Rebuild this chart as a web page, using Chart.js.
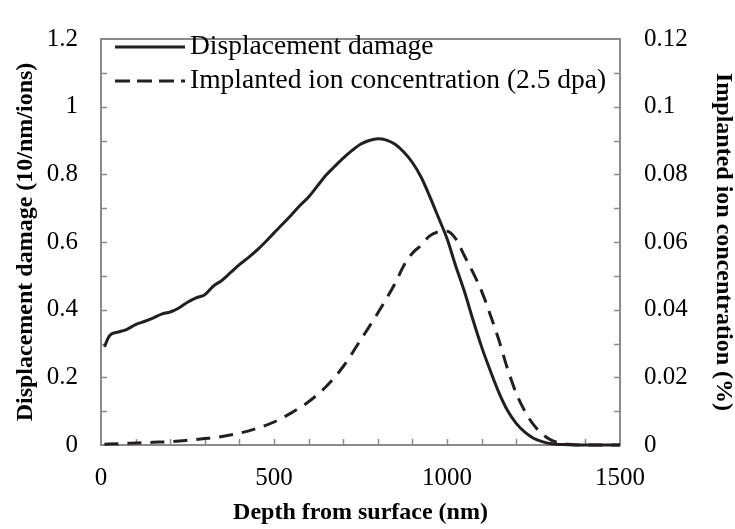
<!DOCTYPE html>
<html>
<head>
<meta charset="utf-8">
<script src="https://cdn.jsdelivr.net/npm/chart.js@4.4.1/dist/chart.umd.min.js"></script>
<style>
  html, body { margin: 0; padding: 0; background: #fff; }
</style>
</head>
<body>
<canvas id="myChart" width="735" height="529"></canvas>
<script>
    // displacement damage (left axis, 10/nm/ions)
    const damageDepth = [10, 20, 30, 50, 75, 100, 125, 150, 175, 200, 225, 250, 275, 300, 325, 350, 375, 400, 425, 450,
        475, 500, 525, 550, 575, 600, 625, 650, 675, 700, 725, 750, 775, 800, 825, 850, 875, 900, 925, 950,
        975, 1000, 1025, 1050, 1075, 1100, 1125, 1150, 1175, 1200, 1225, 1250, 1275, 1300, 1350, 1400, 1450, 1500];
    const damage = [0.29, 0.315, 0.328, 0.334, 0.342, 0.356, 0.365, 0.375, 0.387, 0.393, 0.405, 0.422, 0.435, 0.444, 0.47, 0.487, 0.51, 0.533, 0.553, 0.575,
        0.6, 0.627, 0.653, 0.68, 0.708, 0.733, 0.765, 0.797, 0.823, 0.848, 0.87, 0.889, 0.9, 0.905, 0.901, 0.889, 0.866, 0.835, 0.792, 0.735,
        0.673, 0.61, 0.53, 0.455, 0.37, 0.29, 0.22, 0.155, 0.102, 0.064, 0.038, 0.02, 0.01, 0.004, 0.001, 0, 0, 0];

    // implanted ion concentration (right axis, %)
    const ionDepth = [10, 50, 100, 150, 200, 250, 300, 350, 400, 450, 500, 550, 600, 650, 700, 750, 800, 850, 875, 900,
        925, 950, 975, 1000, 1025, 1050, 1075, 1100, 1125, 1150, 1175, 1200, 1225, 1250, 1275, 1300, 1325, 1350, 1400, 1450, 1500];
    const ionConc = [0.0002, 0.0004, 0.0006, 0.0008, 0.001, 0.0014, 0.0019, 0.0025, 0.0035, 0.0049, 0.0068, 0.0095, 0.0128, 0.0172, 0.0232, 0.031, 0.039, 0.0478, 0.053, 0.0567,
        0.059, 0.0618, 0.063, 0.0632, 0.061, 0.056, 0.051, 0.0455, 0.0385, 0.031, 0.0225, 0.0153, 0.01, 0.006, 0.0033, 0.0015, 0.0006, 0.0002, 0, 0, 0];

    const seriesNames = ['Displacement damage', 'Implanted ion concentration (2.5 dpa)'];
    const xTitle = 'Depth from surface (nm)';
    const yTitle = 'Displacement damage (10/nm/ions)';
    const y2Title = 'Implanted ion concentration (%)';

    const ink = '#231f20';
    const axisGray = '#8a8a8a';
    const serif = '"Liberation Serif", "Times New Roman", serif';
    const dash = [14, 9];

    // plain numbers, no thousands separator, no trailing zeros
    function fmt(v) {
        return String(+Number(v).toFixed(4));
    }

    // frame + inward tick marks, like the excel plot
    const framePlugin = {
        id: 'frame',
        beforeDatasetsDraw(chart) {
            const { ctx, chartArea: a, scales } = chart;
            ctx.save();
            ctx.strokeStyle = axisGray;
            ctx.lineWidth = 2;
            ctx.strokeRect(a.left, a.top, a.right - a.left, a.bottom - a.top);
            ctx.lineWidth = 1.5;
            ctx.beginPath();
            for (let v = 100; v < 1500; v += 100) {
                const px = Math.round(scales.x.getPixelForValue(v)) + 0.5;
                ctx.moveTo(px, a.bottom);
                ctx.lineTo(px, a.bottom - 6);
            }
            for (let i = 1; i < 12; i++) {
                const py = Math.round(scales.y.getPixelForValue(i / 10)) + 0.5;
                ctx.moveTo(a.left, py);
                ctx.lineTo(a.left + 6, py);
                const py2 = Math.round(scales.y2.getPixelForValue(i / 100)) + 0.5;
                ctx.moveTo(a.right, py2);
                ctx.lineTo(a.right - 6, py2);
            }
            ctx.stroke();
            ctx.restore();
        }
    };

    const legendPlugin = {
        id: 'lineLegend',
        afterDraw(chart) {
            const { ctx } = chart;
            const rows = [{ y: 47, d: [] }, { y: 81, d: [15, 7] }];
            ctx.save();
            ctx.font = '27.5px ' + serif;
            ctx.fillStyle = '#000';
            ctx.textBaseline = 'middle';
            rows.forEach((r, i) => {
                ctx.strokeStyle = ink;
                ctx.lineWidth = 3;
                ctx.setLineDash(r.d);
                ctx.beginPath();
                ctx.moveTo(115, r.y);
                ctx.lineTo(185, r.y);
                ctx.stroke();
                ctx.setLineDash([]);
                ctx.fillText(seriesNames[i], 190, r.y);
            });
            ctx.restore();
        }
    };

    const tickFont = { family: serif, size: 25 };
    const titleFont = { family: serif, size: 24, weight: 'bold', lineHeight: 1 };

    new Chart('myChart', {
        type: 'line',
        data: {
            datasets: [{
                label: seriesNames[0],
                data: damageDepth.map((d, i) => ({ x: d, y: damage[i] })),
                yAxisID: 'y',
                borderColor: ink,
                borderWidth: 3,
                pointRadius: 0,
                cubicInterpolationMode: 'monotone',
                clip: false
            }, {
                label: seriesNames[1],
                data: ionDepth.map((d, i) => ({ x: d, y: ionConc[i] })),
                yAxisID: 'y2',
                borderColor: ink,
                borderWidth: 3,
                borderDash: dash,
                pointRadius: 0,
                cubicInterpolationMode: 'monotone',
                clip: false
            }]
        },
        options: {
            responsive: false,
            animation: false,
            layout: { padding: { top: 24, left: 0, right: 0, bottom: 0 } },
            plugins: {
                legend: { display: false },
                tooltip: { enabled: false }
            },
            scales: {
                x: {
                    type: 'linear',
                    min: 0,
                    max: 1500,
                    ticks: { stepSize: 500, color: '#000', font: tickFont, padding: 18, maxRotation: 0, callback: fmt },
                    grid: { display: false, drawTicks: false },
                    border: { display: false },
                    title: { display: true, text: xTitle, color: '#000', font: titleFont, padding: { top: 0, bottom: 4 } },
                    afterFit(s) { s.height = 84; }
                },
                y: {
                    position: 'left',
                    min: 0,
                    max: 1.2,
                    ticks: { stepSize: 0.2, color: '#000', font: tickFont, padding: 23, callback: fmt },
                    grid: { display: false, drawTicks: false },
                    border: { display: false },
                    title: { display: true, text: yTitle, color: '#000', font: titleFont, padding: { top: 14, bottom: 0 } },
                    afterFit(s) { s.width = 101; }
                },
                y2: {
                    position: 'right',
                    min: 0,
                    max: 0.12,
                    ticks: { stepSize: 0.02, color: '#000', font: tickFont, padding: 24, callback: fmt },
                    grid: { display: false, drawTicks: false },
                    border: { display: false },
                    title: { display: true, text: y2Title, color: '#000', font: titleFont, padding: { top: 0, bottom: 0 } },
                    afterFit(s) { s.width = 115; }
                }
            }
        },
        plugins: [framePlugin, legendPlugin]
    });
</script>
</body>
</html>
